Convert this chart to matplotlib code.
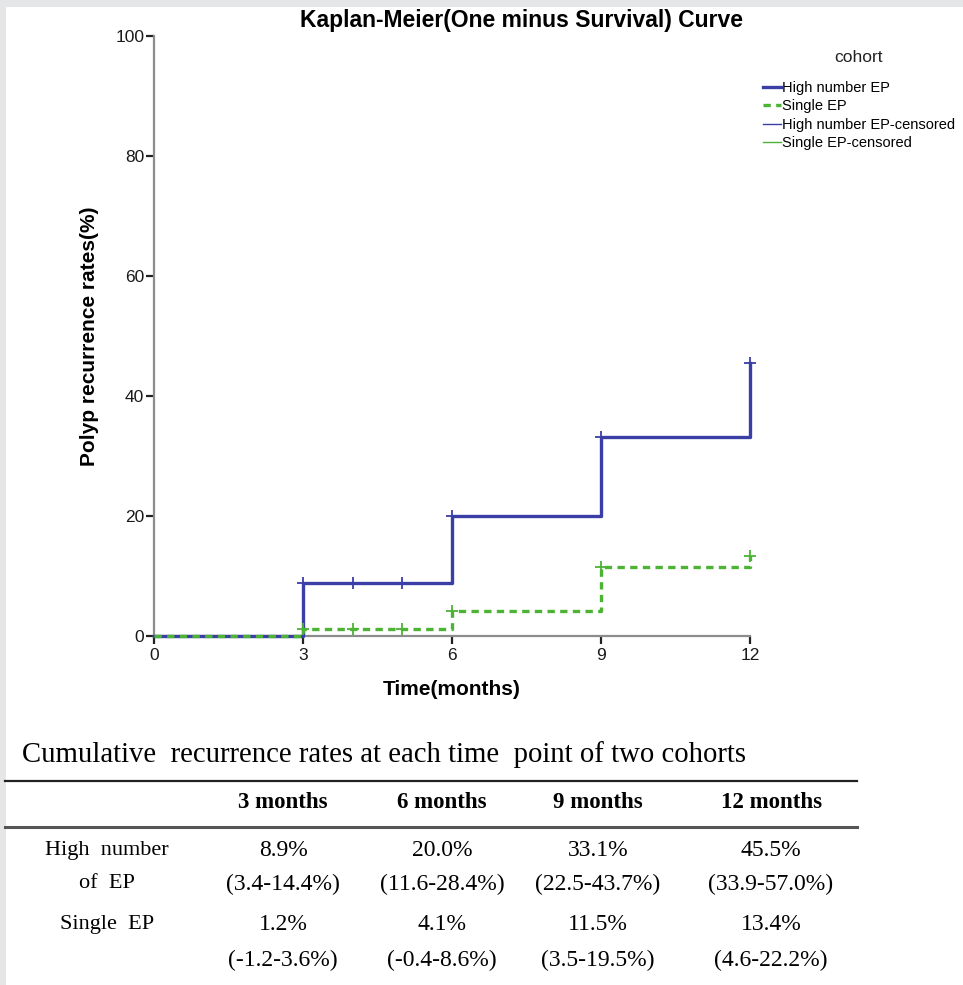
import matplotlib.pyplot as plt
from matplotlib.lines import Line2D
from matplotlib.patches import Rectangle

plt.rcParams['font.family'] = ['Liberation Sans', 'DejaVu Sans']

months = [0, 3, 6, 9, 12]
high_rate = [0, 8.9, 20.0, 33.1, 45.5]
single_rate = [0, 1.2, 4.1, 11.5, 13.4]

cens_t = [3, 4, 5, 6, 9, 12]
high_cens = [8.9, 8.9, 8.9, 20.0, 33.1, 45.5]
single_cens = [1.2, 1.2, 1.2, 4.1, 11.5, 13.4]

col_heads = ['3 months', '6 months', '9 months', '12 months']
row_heads = [['High  number', 'of  EP'], ['Single  EP', '']]
high_cells = [['8.9%', '(3.4-14.4%)'], ['20.0%', '(11.6-28.4%)'],
              ['33.1%', '(22.5-43.7%)'], ['45.5%', '(33.9-57.0%)']]
single_cells = [['1.2%', '(-1.2-3.6%)'], ['4.1%', '(-0.4-8.6%)'],
                ['11.5%', '(3.5-19.5%)'], ['13.4%', '(4.6-22.2%)']]

BLUE = '#3a3ea6'
GREEN = '#4db335'
W, H = 963, 985

def fx(px):
    return px / W

def fy(py):
    return 1 - py / H

fig = plt.figure(figsize=(W / 100, H / 100), dpi=100)
fig.patch.set_facecolor('white')
# light gray frame on the top and left edges
fig.add_artist(Rectangle((0, fy(7)), 1, 7 / H, transform=fig.transFigure, color='#e5e6e8', lw=0))
fig.add_artist(Rectangle((0, 0), 6 / W, 1, transform=fig.transFigure, color='#e5e6e8', lw=0))

ax = fig.add_axes([fx(154), fy(636), 596 / W, 600 / H])
ax.step(months, high_rate, where='post', color=BLUE, lw=2.4, clip_on=False, zorder=3)
ax.step(months, single_rate, where='post', color=GREEN, lw=2.4, ls=(0, (2.2, 1.6)),
        clip_on=False, zorder=4)
ax.plot(cens_t, high_cens, ls='none', marker='+', ms=9, mew=1.3, color=BLUE, clip_on=False, zorder=3)
ax.plot(cens_t, single_cens, ls='none', marker='+', ms=9, mew=1.3, color=GREEN, clip_on=False, zorder=4)

ax.set_xlim(0, 12)
ax.set_ylim(0, 100)
ax.set_xticks(months)
ax.set_yticks([0, 20, 40, 60, 80, 100])
for s in ['top', 'right']:
    ax.spines[s].set_visible(False)
for s in ['left', 'bottom']:
    ax.spines[s].set_color('#8c8c8c')
    ax.spines[s].set_linewidth(1.6)
ax.tick_params(length=6, width=1.6, color='#222222', labelsize=12.5, labelcolor='#1a1a1a')
ax.tick_params(axis='y', pad=1)
ax.tick_params(axis='x', pad=3)
ax.set_xlabel('Time(months)', fontsize=15, fontweight='bold', labelpad=12)
ax.set_ylabel('Polyp recurrence rates(%)', fontsize=15, fontweight='bold', labelpad=12)

fig.text(fx(521), fy(20), 'Kaplan-Meier(One minus Survival) Curve', ha='center', va='center',
         fontsize=16.5, fontweight='bold')

handles = [Line2D([], [], color=BLUE, lw=2.4),
           Line2D([], [], color=GREEN, lw=2.4, ls=(0, (2.2, 1.6))),
           Line2D([], [], color=BLUE, lw=1.0),
           Line2D([], [], color=GREEN, lw=1.0)]
labels = ['High number EP', 'Single EP', 'High number EP-censored', 'Single EP-censored']
fig.text(fx(858), fy(57), 'cohort', ha='center', va='center', fontsize=12.5, color='#222222')
fig.legend(handles, labels, loc='upper left', bbox_to_anchor=(fx(763), fy(81)),
           frameon=False, fontsize=10.5, handlelength=1.2, handletextpad=0.1,
           labelspacing=0.3, borderaxespad=0, borderpad=0)

# table below the chart
serif = 'Liberation Serif'
fig.text(fx(22), fy(755), 'Cumulative  recurrence rates at each time  point of two cohorts',
         fontsize=20.7, family=serif, ha='left', va='center')
fig.add_artist(Line2D([fx(5), fx(857)], [fy(781), fy(781)], color='#222222', lw=1.6))
fig.add_artist(Line2D([fx(5), fx(857)], [fy(827), fy(827)], color='#555555', lw=2.2))

col_x = [283, 442, 598, 771]
for x, h in zip(col_x, col_heads):
    fig.text(fx(x), fy(803), h, fontsize=16.5, family=serif, fontweight='bold', ha='center', va='center')

row_y = [[851, 884], [925, 960]]
for (y1, y2), rh, cells in zip(row_y, row_heads, [high_cells, single_cells]):
    fig.text(fx(107), fy(y1), rh[0], fontsize=16, family=serif, ha='center', va='center')
    fig.text(fx(107), fy(y2), rh[1], fontsize=16, family=serif, ha='center', va='center')
    for x, c in zip(col_x, cells):
        fig.text(fx(x), fy(y1), c[0], fontsize=17, family=serif, ha='center', va='center')
        fig.text(fx(x), fy(y2), c[1], fontsize=17, family=serif, ha='center', va='center')

fig.savefig('out.png', dpi=100)
